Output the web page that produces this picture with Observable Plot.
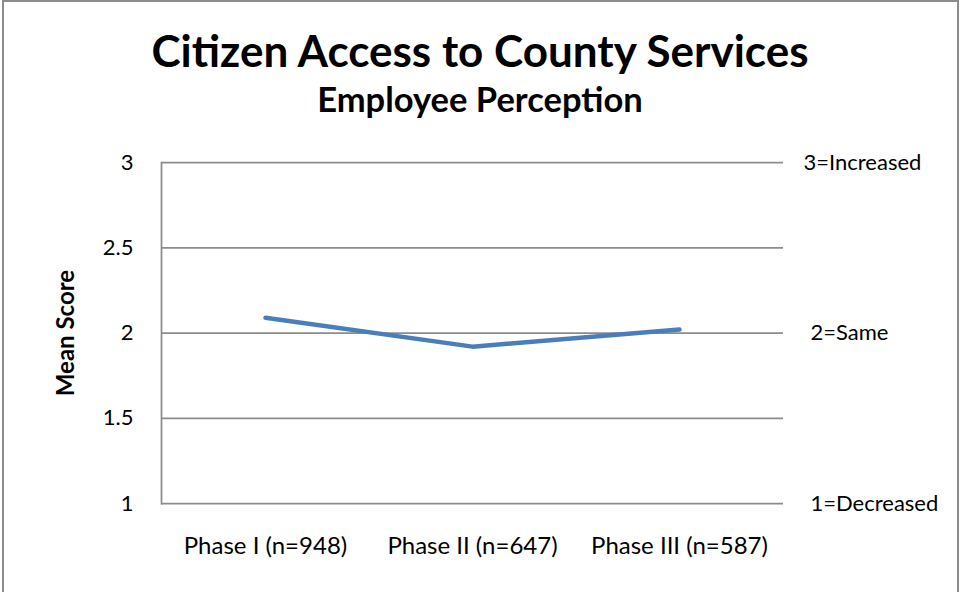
<!DOCTYPE html>
<html>
<head>
<meta charset="utf-8">
<script src="https://cdn.jsdelivr.net/npm/d3@7"></script>
<script src="https://cdn.jsdelivr.net/npm/@observablehq/plot@0.6"></script>
<style>
  body { margin: 0; background: #fff; }
  #wrap { position: relative; width: 960px; height: 592px; overflow: hidden; background: #fff; font-family: Lato, sans-serif; color: #000; }
  #border { position: absolute; left: 2px; top: 0; width: 957px; height: 620px; box-sizing: border-box; border: 2px solid #8c8c8c; pointer-events: none; }
  #title { position: absolute; left: 0; width: 960px; text-align: center; top: 28px; font-size: 44px; line-height: 44px; font-weight: 700; }
  #subtitle { position: absolute; left: 0; width: 960px; text-align: center; top: 82px; font-size: 34.5px; line-height: 34.5px; font-weight: 700; }
  #chart { position: absolute; left: 0; top: 130px; }
</style>
</head>
<body>
<div id="wrap">
  <div id="title">Citizen Access to County Services</div>
  <div id="subtitle">Employee Perception</div>
  <div id="chart"></div>
  <div id="border"></div>
</div>
<script>
const phases = ["Phase I (n=948)", "Phase II (n=647)", "Phase III (n=587)"];
const meanScores = [2.09, 1.92, 2.02];
const yTicks = [1, 1.5, 2, 2.5, 3];
const scaleValues = [1, 2, 3];
const scaleLabels = ["1=Decreased", "2=Same", "3=Increased"];
const yLabel = "Mean Score";

const data = phases.map((p, i) => ({phase: p, score: meanScores[i]}));
const scaleRows = scaleValues.map((v, i) => ({v, label: scaleLabels[i]}));

const chart = Plot.plot({
  width: 960,
  height: 462,
  marginTop: 32,
  marginBottom: 89,
  marginLeft: 161,
  marginRight: 177,
  style: {fontFamily: "Lato, sans-serif", fontSize: "22px", color: "#000", background: "transparent", overflow: "visible"},
  x: {type: "point", domain: phases, padding: 0.5},
  y: {domain: [1, 3]},
  marks: [
    Plot.ruleY(yTicks, {stroke: "#8c8c8c", strokeWidth: 1.75}),
    Plot.frame({anchor: "left", stroke: "#8c8c8c", strokeWidth: 1.75}),
    Plot.axisY(yTicks, {tickSize: 0, tickPadding: 28, fontSize: 22, label: null, tickFormat: d => String(d)}),
    Plot.axisX({tickSize: 0, tickPadding: 33, fontSize: 24, label: null}),
    Plot.lineY(data, {x: "phase", y: "score", stroke: "#4a7ebb", strokeWidth: 4.5, strokeLinecap: "round", strokeLinejoin: "round"}),
    Plot.text(scaleRows.filter(d => d.v === 3), {y: "v", text: "label", frameAnchor: "right", textAnchor: "start", dx: 20, fontSize: 22}),
    Plot.text(scaleRows.filter(d => d.v !== 3), {y: "v", text: "label", frameAnchor: "right", textAnchor: "start", dx: 27, fontSize: 22}),
    Plot.text([yLabel], {text: d => d, frameAnchor: "left", textAnchor: "middle", lineAnchor: "middle", rotate: -90, dx: -95, fontSize: 24, fontWeight: "bold"})
  ]
});
document.getElementById("chart").appendChild(chart);
</script>
</body>
</html>
